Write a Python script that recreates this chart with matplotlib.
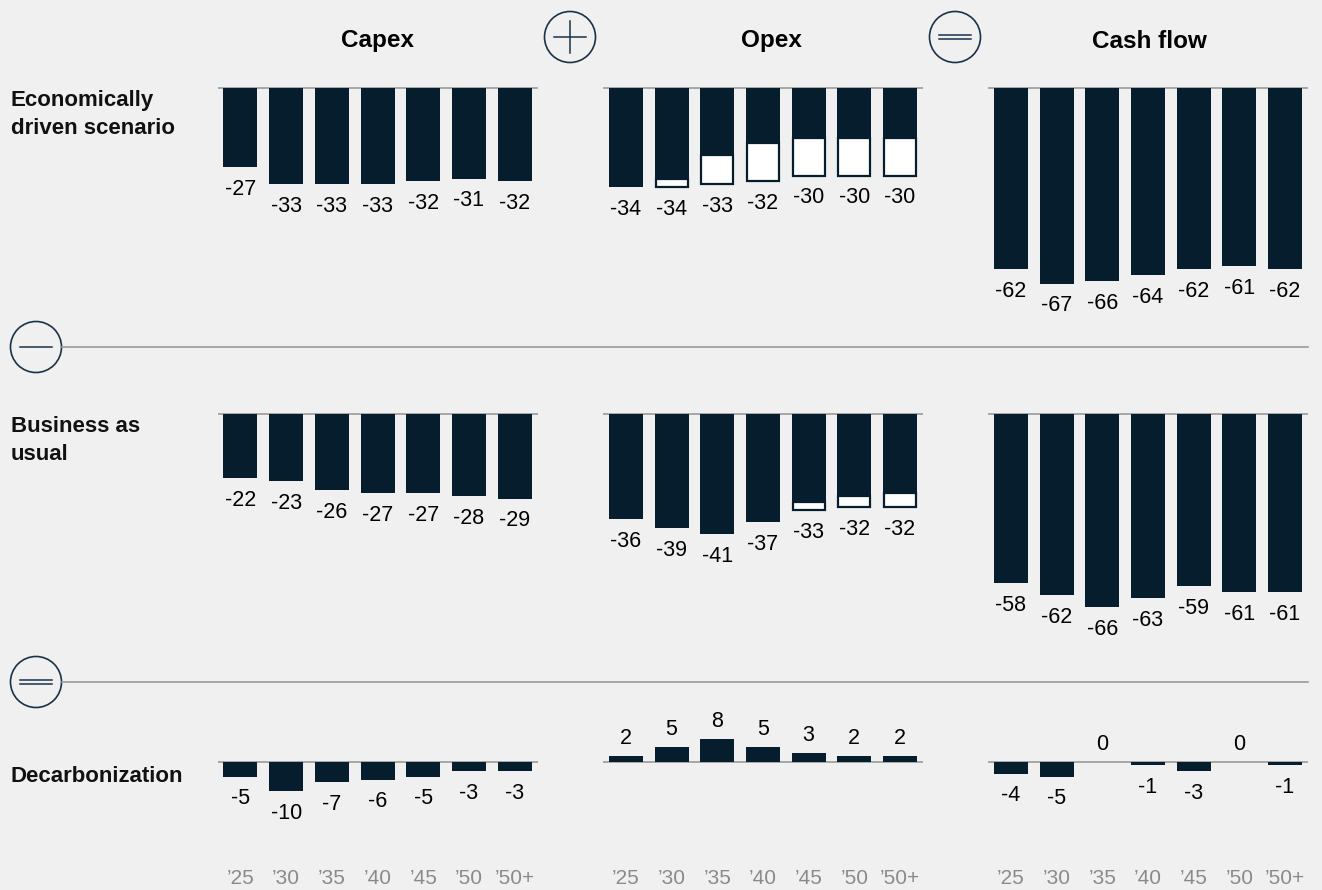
import numpy as np
import matplotlib.pyplot as plt
from matplotlib.patches import Circle
from matplotlib.transforms import blended_transform_factory

plt.rcParams['font.family'] = ['Liberation Sans', 'DejaVu Sans']

W, H = 1322, 890
BG = '#f0f0f0'
NAVY = '#061d2e'
RULE = '#9a9a9a'
TICK = '#8a8a8a'
ICON = '#1b3148'

years = ["\u201925", "\u201930", "\u201935", "\u201940", "\u201945", "\u201950", "\u201950+"]
columns = ['Capex', 'Opex', 'Cash flow']
row_names = ['Economically\ndriven scenario', 'Business as\nusual', 'Decarbonization']

# economically driven scenario
capex_econ = [-27, -33, -33, -33, -32, -31, -32]
opex_econ = [-34, -34, -33, -32, -30, -30, -30]
opex_econ_white = [0, 3, 10, 13, 13, 13, 13]
cash_econ = [-62, -67, -66, -64, -62, -61, -62]

# business as usual
capex_bau = [-22, -23, -26, -27, -27, -28, -29]
opex_bau = [-36, -39, -41, -37, -33, -32, -32]
opex_bau_white = [0, 0, 0, 0, 3, 4, 5]
cash_bau = [-58, -62, -66, -63, -59, -61, -61]

# decarbonization
capex_dec = [-5, -10, -7, -6, -5, -3, -3]
opex_dec = [2, 5, 8, 5, 3, 2, 2]
cash_dec = [-4, -5, 0, -1, -3, 0, -1]

SCALE = 2.92   # px per unit
PITCH = 45.7   # px per bar slot
panel_left = [217.6, 603, 988]
baselines = [88, 414, 762]

fig = plt.figure(figsize=(W / 100, H / 100), dpi=100, facecolor=BG)


def panel(left, base, top_pad=45, bottom_pad=230):
    ax = fig.add_axes([left / W, 1 - (base + bottom_pad) / H,
                       7 * PITCH / W, (top_pad + bottom_pad) / H])
    ax.set_xlim(-0.5, 6.5)
    ax.set_ylim(-bottom_pad / SCALE, top_pad / SCALE)
    ax.set_facecolor('none')
    ax.axis('off')
    ax.axhline(0, color=RULE, lw=1.2, zorder=1)
    return ax


def draw_bars(ax, vals, white=None):
    x = np.arange(len(vals))
    vals = np.array(vals, dtype=float)
    ax.bar(x, vals, width=0.745, color=NAVY, zorder=2)
    if white is not None:
        w = np.array(white, dtype=float)
        m = w > 0
        ax.bar(x[m], -w[m], bottom=vals[m] + w[m], width=0.70, color='white',
               edgecolor=NAVY, lw=1.6, zorder=3)
    for i, v in enumerate(vals):
        if v < 0:
            ax.annotate(f'{int(v)}', (i, v), xytext=(0, -8.5), textcoords='offset points',
                        ha='center', va='top', fontsize=15.5, color='black')
        else:
            ax.annotate(f'{int(v)}', (i, v), xytext=(0, 5), textcoords='offset points',
                        ha='center', va='bottom', fontsize=15.5, color='black')


data = [
    [(capex_econ, None), (opex_econ, opex_econ_white), (cash_econ, None)],
    [(capex_bau, None), (opex_bau, opex_bau_white), (cash_bau, None)],
    [(capex_dec, None), (opex_dec, None), (cash_dec, None)],
]

for r, base in enumerate(baselines):
    for c, left in enumerate(panel_left):
        ax = panel(left, base, bottom_pad=230 if r < 2 else 110)
        vals, white = data[r][c]
        draw_bars(ax, vals, white)
        if r == 2:
            tr = blended_transform_factory(ax.transData, fig.transFigure)
            for i, lab in enumerate(years):
                ax.text(i, 1 - 879 / H, lab, transform=tr, ha='center', va='center',
                        fontsize=15, color=TICK)

# overlay in pixel coordinates for titles, labels, separators and icons
ov = fig.add_axes([0, 0, 1, 1])
ov.set_xlim(0, W)
ov.set_ylim(H, 0)
ov.axis('off')

title_x = [377, 771, 1149]
for name, tx in zip(columns, title_x):
    ov.text(tx, 47.5, name, ha='center', va='baseline', fontsize=17.5, fontweight='bold')

label_y = [106, 432]
for name, ly in zip(row_names[:2], label_y):
    first, second = name.split('\n')
    ov.text(11, ly, first, ha='left', va='baseline', fontsize=16, fontweight='bold',
            color='#111111')
    ov.text(11, ly + 28, second, ha='left', va='baseline', fontsize=16, fontweight='bold',
            color='#111111')
ov.text(11, 782, row_names[2], ha='left', va='baseline', fontsize=16,
        fontweight='bold', color='#111111')

for sy in [347, 682]:
    ov.plot([62, 1308], [sy, sy], color=RULE, lw=1.2)


def icon(cx, cy, kind):
    ov.add_patch(Circle((cx, cy), 25.5, fill=False, ec=ICON, lw=1.2))
    if kind == 'plus':
        ov.plot([cx - 16, cx + 16], [cy, cy], color=ICON, lw=1.1)
        ov.plot([cx, cx], [cy - 16, cy + 16], color=ICON, lw=1.1)
    elif kind == 'minus':
        ov.plot([cx - 16, cx + 16], [cy, cy], color=ICON, lw=1.1)
    else:
        ov.plot([cx - 16, cx + 16], [cy - 2.3, cy - 2.3], color=ICON, lw=1.1)
        ov.plot([cx - 16, cx + 16], [cy + 2.3, cy + 2.3], color=ICON, lw=1.1)


icon(570, 37, 'plus')
icon(955, 37, 'equal')
icon(36, 347, 'minus')
icon(36, 682, 'equal')

fig.savefig('out.png', dpi=100, facecolor=BG)
